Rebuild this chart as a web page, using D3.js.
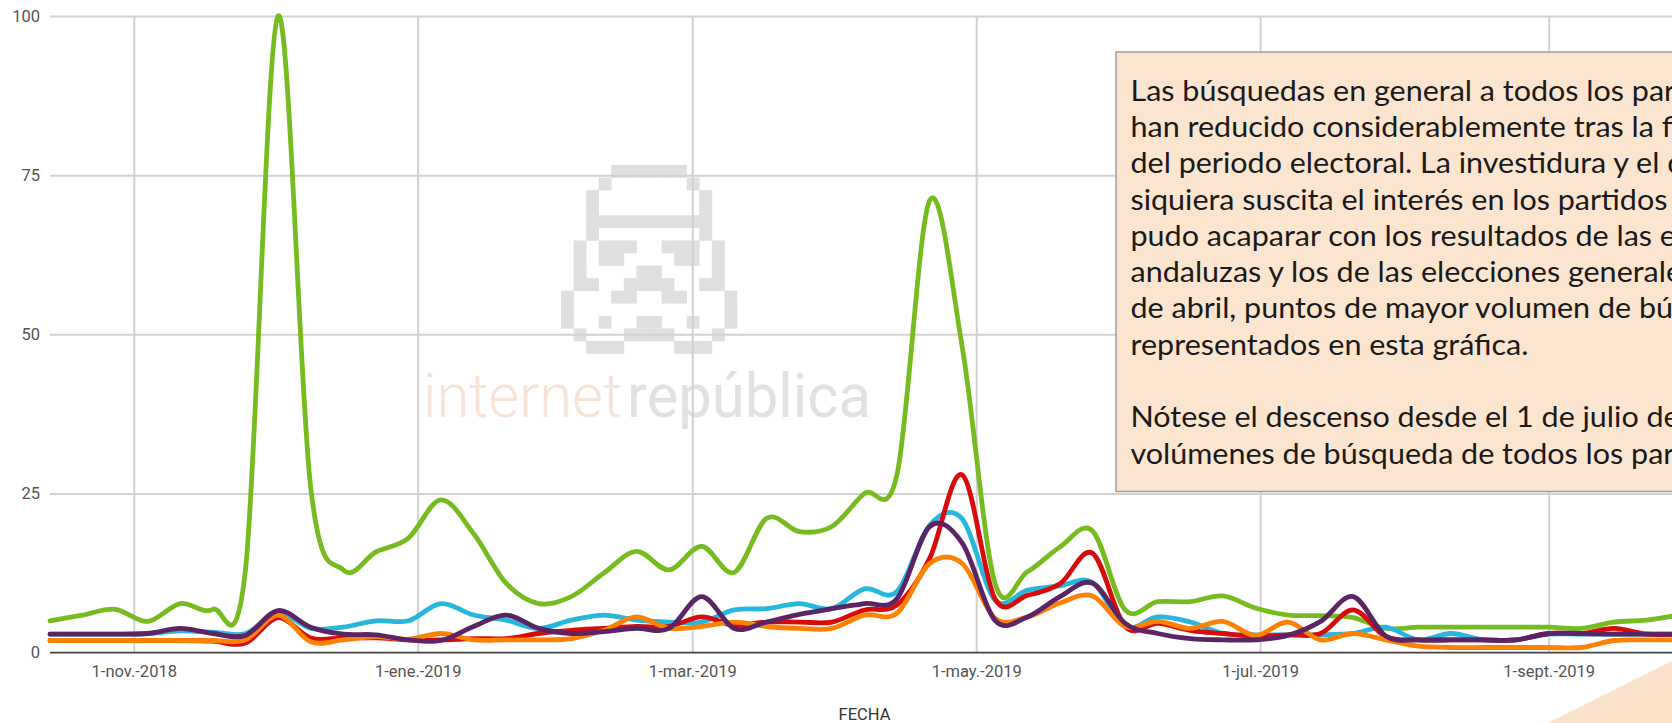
<!DOCTYPE html>
<html>
<head>
<meta charset="utf-8">
<script src="https://cdn.jsdelivr.net/npm/d3@7"></script>
<style>
  html, body { margin: 0; padding: 0; background: #fff; overflow: hidden; }
  svg { display: block; }
</style>
</head>
<body>
<div id="viz"></div>
<script>
/***************** Data (weekly, Google Trends style) *********************/
var weeks = [
  "2018-10-14", "2018-10-21", "2018-10-28", "2018-11-04", "2018-11-11", "2018-11-18",
  "2018-11-25", "2018-12-02", "2018-12-09", "2018-12-16", "2018-12-23", "2018-12-30",
  "2019-01-06", "2019-01-13", "2019-01-20", "2019-01-27", "2019-02-03", "2019-02-10",
  "2019-02-17", "2019-02-24", "2019-03-03", "2019-03-10", "2019-03-17", "2019-03-24",
  "2019-03-31", "2019-04-07", "2019-04-14", "2019-04-21", "2019-04-28", "2019-05-05",
  "2019-05-12", "2019-05-19", "2019-05-26", "2019-06-02", "2019-06-09", "2019-06-16",
  "2019-06-23", "2019-06-30", "2019-07-07", "2019-07-14", "2019-07-21", "2019-07-28",
  "2019-08-04", "2019-08-11", "2019-08-18", "2019-08-25", "2019-09-01", "2019-09-08",
  "2019-09-15", "2019-09-22", "2019-09-29"
];

var vox = [5, 5.9, 6.8, 4.9, 7.7, 6.8, 13, 100, 26, 13, 15.8, 18, 24, 18.7, 10.9, 7.7, 8.8,
  12.5, 15.9, 13, 16.7, 12.6, 21.1, 19, 19.8, 25, 28, 71, 48, 11, 12.7, 16.6, 19.1, 6.7,
  8, 8, 8.9, 7, 5.9, 5.8, 5.5, 3.8, 4, 4, 4, 4, 4, 3.8, 4.8, 5.1, 5.9];
var pp = [2.9, 2.9, 2.9, 3, 3.4, 3.2, 3, 6.3, 3.8, 4, 5, 5, 7.7, 5.9, 5.1, 3.8, 5.1, 5.9,
  5.1, 4.8, 4.8, 6.7, 6.9, 7.7, 6.9, 10, 9.6, 20, 21, 8.3, 9.8, 10.5, 11, 4.1, 5.6, 4.8, 3,
  2.8, 2.8, 2.8, 3, 4, 2, 3, 2, 2, 2.9, 2.9, 2.9, 2.9, 2.9];
var psoe = [1.9, 1.9, 1.9, 1.9, 1.9, 1.8, 1.5, 5.5, 2.3, 2.3, 2.3, 2, 2, 2.2, 2.2, 3, 3.5,
  3.8, 4.1, 4.1, 5.6, 4.3, 4.8, 4.8, 4.8, 6.7, 7.5, 14.8, 27.9, 8.5, 9, 10.8, 15.6, 4.1, 4.6,
  3.5, 3, 2.6, 2.8, 3, 6.7, 2.5, 2, 2, 2, 2, 3, 3, 3.8, 2.9, 2.9];
var cs = [1.9, 1.9, 1.9, 1.9, 1.9, 1.9, 2, 5.9, 1.7, 2, 2.5, 2.1, 3, 2, 2, 2, 2.2, 3.5, 5.6,
  3.8, 4.1, 4.8, 4.1, 3.8, 3.8, 5.9, 6.2, 14, 14, 5.4, 5.6, 7.8, 8.9, 4.1, 4.9, 3.8, 4.9, 2.7,
  4.8, 2, 3, 2, 1, 0.8, 0.8, 0.8, 0.8, 0.8, 1.9, 2, 2];
var podemos = [2.9, 2.9, 2.9, 3, 3.8, 3, 2.7, 6.6, 4, 2.9, 2.8, 2, 1.9, 4.1, 5.9, 3.8, 3,
  3.3, 3.8, 3.8, 8.8, 3.8, 4.8, 6, 6.9, 7.7, 8.5, 19.8, 17.2, 5.1, 5.6, 8.8, 10.9, 4.6, 3, 2.2,
  2, 2, 2.7, 4.9, 8.8, 2.6, 2, 2, 2, 2, 3, 3, 2.9, 2.9, 2.9];

var series = [
  { name: "Vox", values: vox, color: "#76bc21" },
  { name: "PP", values: pp, color: "#27b6dc" },
  { name: "PSOE", values: psoe, color: "#d80b0b" },
  { name: "Ciudadanos", values: cs, color: "#fd8204" },
  { name: "Podemos", values: podemos, color: "#5b2464" }
];

var yTicks = [0, 25, 50, 75, 100];
var xTickDates = ["2018-11-01", "2019-01-01", "2019-03-01", "2019-05-01", "2019-07-01", "2019-09-01"];
var xTickLabels = ["1-nov.-2018", "1-ene.-2019", "1-mar.-2019", "1-may.-2019", "1-jul.-2019", "1-sept.-2019"];

var noteLines = [
  "Las búsquedas en general a todos los partidos se",
  "han reducido considerablemente tras la finalización",
  "del periodo electoral. La investidura y el debate ni",
  "siquiera suscita el interés en los partidos que se",
  "pudo acaparar con los resultados de las elecciones",
  "andaluzas y los de las elecciones generales del 28",
  "de abril, puntos de mayor volumen de búsquedas",
  "representados en esta gráfica.",
  "",
  "Nótese el descenso desde el 1 de julio de los",
  "volúmenes de búsqueda de todos los partidos."
];

// watermark helmet, one string per pixel row
var logoRows = [
  "....######....",
  "...#......#...",
  "..#........#..",
  "..#........#..",
  "..##########..",
  "..#........#..",
  ".#.###..###.#.",
  ".#.##....##.#.",
  ".#....##....#.",
  ".##..####..##.",
  "#...##..##...#",
  "#............#",
  "#..#..##..#..#",
  ".#...####...#.",
  "..###....###.."
];

/***************** Layout *********************/
var W = 1672, H = 723,
    plotLeft = 50, plotRight = 1679,
    plotTop = 16, plotBottom = 652.6,
    grid_color = "#d2d2d2",
    text_color = "#555";

var parse = d3.timeParse("%Y-%m-%d");
var dates = weeks.map(parse);

var x = d3.scaleTime().domain([dates[0], dates[dates.length - 1]]).range([plotLeft, plotRight]);
var y = d3.scaleLinear().domain([0, 100]).range([plotBottom, plotTop]);

var svg = d3.select("#viz").append("svg")
    .attr("width", W)
    .attr("height", H);

/* Watermark */
var wm = svg.append("g").attr("class", "watermark");
var cell = 12.57;
logoRows.forEach(function(row, r) {
  row.split("").forEach(function(c, k) {
    if (c === "#") {
      wm.append("rect")
        .attr("x", 561 + k * cell)
        .attr("y", 165 + r * cell)
        .attr("width", cell + 0.3)
        .attr("height", cell + 0.3)
        .attr("fill", "#e0e0e0");
    }
  });
});
wm.append("text")
    .attr("x", 423).attr("y", 416.5)
    .attr("textLength", 199).attr("lengthAdjust", "spacingAndGlyphs")
    .style("font-family", "Roboto").style("font-weight", 300)
    .style("font-size", "62px").style("fill", "#f6e4d8")
    .text("internet");
wm.append("text")
    .attr("x", 627).attr("y", 416.5)
    .attr("textLength", 244).attr("lengthAdjust", "spacingAndGlyphs")
    .style("font-family", "Roboto").style("font-weight", 400)
    .style("font-size", "62px").style("fill", "#e2e2e2")
    .text("república");

/* Grid */
svg.append("g")
    .attr("class", "ygrid")
    .attr("transform", "translate(" + plotLeft + ",0)")
    .call(d3.axisLeft(y).tickValues(yTicks.slice(1)).tickSize(-(W - plotLeft + 40)).tickFormat(""))
    .call(function(g) { g.select(".domain").remove(); })
    .selectAll("line")
    .attr("stroke", grid_color)
    .attr("stroke-width", 2);

var tickDates = xTickDates.map(parse);
svg.append("g")
    .attr("class", "xgrid")
    .attr("transform", "translate(0," + plotBottom + ")")
    .call(d3.axisBottom(x).tickValues(tickDates).tickSize(-(plotBottom - plotTop)).tickFormat(""))
    .call(function(g) { g.select(".domain").remove(); })
    .selectAll("line")
    .attr("stroke", grid_color)
    .attr("stroke-width", 2);

/* Axes labels */
var yAxis = svg.append("g")
    .attr("transform", "translate(" + plotLeft + ",0)")
    .call(d3.axisLeft(y).tickValues(yTicks).tickSize(0).tickPadding(10));
yAxis.select(".domain").remove();
yAxis.selectAll("text")
    .style("font-family", "Roboto").style("font-size", "16.5px")
    .style("fill", text_color);

var xAxis = svg.append("g")
    .attr("transform", "translate(0," + plotBottom + ")")
    .call(d3.axisBottom(x).tickValues(tickDates).tickSize(0).tickPadding(10)
      .tickFormat(function(d, i) { return xTickLabels[i]; }));
xAxis.select(".domain").remove();
xAxis.selectAll("text")
    .attr("dy", null).attr("y", 24.5)
    .style("font-family", "Roboto").style("font-size", "16.5px")
    .style("fill", text_color);

svg.append("line")
    .attr("x1", plotLeft).attr("x2", W)
    .attr("y1", plotBottom).attr("y2", plotBottom)
    .attr("stroke", "#444").attr("stroke-width", 1.6);

svg.append("text")
    .attr("x", (plotLeft + plotRight) / 2)
    .attr("y", 720)
    .style("text-anchor", "middle")
    .style("font-family", "Roboto").style("font-size", "16.5px")
    .style("fill", "#333")
    .text("FECHA");

/* Lines */
var line = d3.line()
    .x(function(d, i) { return x(dates[i]); })
    .y(function(d) { return y(d); })
    .curve(d3.curveCardinal.tension(0));

svg.selectAll(".serie").data(series)
  .enter()
    .append("path")
    .attr("class", "serie")
    .attr("d", function(s) { return line(s.values); })
    .attr("fill", "none")
    .attr("stroke", function(s) { return s.color; })
    .attr("stroke-width", 4.8)
    .attr("stroke-linejoin", "round")
    .attr("stroke-linecap", "round");

/* Note box */
var note = svg.append("g").attr("class", "note");
note.append("rect")
    .attr("x", 1116).attr("y", 52)
    .attr("width", 700).attr("height", 439.5)
    .attr("fill", "#fce5cf")
    .attr("stroke", "#9e9e9e")
    .attr("stroke-width", 1.5);
var noteText = note.append("g");
noteText.selectAll("text").data(noteLines)
  .enter()
    .append("text")
    .attr("x", 1130.5)
    .attr("y", function(d, i) { return 100.7 + i * 36.3; })
    .style("font-family", "Lato")
    .style("font-size", "28px")
    .style("fill", "#1a1a1a")
    .text(function(d) { return d; });

// the original face is wider than Lato: stretch to the measured width of line 3
var probe = noteText.append("text")
    .style("font-family", "Lato").style("font-size", "28px")
    .text("del periodo electoral.");
var sx = 282 / probe.node().getComputedTextLength();
probe.remove();
noteText.attr("transform", "translate(1130.5,0) scale(" + sx + ",1) translate(-1130.5,0)");

/* Corner decoration */
svg.append("polygon")
    .attr("points", "1548,723 1672,661 1672,723")
    .attr("fill", "#fbe3cc");
</script>
</body>
</html>
